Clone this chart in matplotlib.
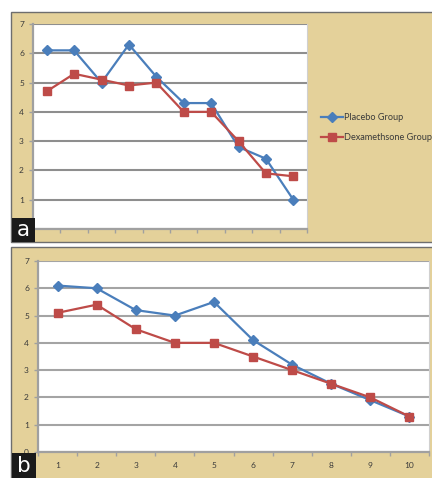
import matplotlib.pyplot as plt
import numpy as np
from matplotlib.patches import Rectangle

# ---- data -------------------------------------------------------------
visits = list(range(1, 11))
placebo_a = [6.1, 6.1, 5.0, 6.3, 5.2, 4.3, 4.3, 2.8, 2.4, 1.0]
dexa_a = [4.7, 5.3, 5.1, 4.9, 5.0, 4.0, 4.0, 3.0, 1.9, 1.8]
placebo_b = [6.1, 6.0, 5.2, 5.0, 5.5, 4.1, 3.2, 2.5, 1.9, 1.3]
dexa_b = [5.1, 5.4, 4.5, 4.0, 4.0, 3.5, 3.0, 2.5, 2.0, 1.3]
series_names = ["Placebo Group", "Dexamethsone Group"]
y_ticks = list(range(0, 8))

# ---- style ------------------------------------------------------------
W, H = 432, 478
PAPER = "#e4d19a"
FRAME = "#6e6e6e"
GRID = "#8e8e8e"
BLUE = "#4a7ebb"
RED = "#be4b48"
TEXT = "#3a3a3a"

plt.rcParams["font.family"] = ["Lato", "DejaVu Sans"]


def px_box(left, top, right, bottom):
    """Pixel box (origin top-left) -> figure fraction rect."""
    return [left / W, 1 - bottom / H, (right - left) / W, (bottom - top) / H]


def panel(fig, left, top, right, bottom):
    x, y, w, h = px_box(left, top, right, bottom)
    fig.add_artist(Rectangle((x, y), w, h, transform=fig.transFigure,
                             facecolor=PAPER, edgecolor=FRAME, lw=1.0, zorder=0))


def tag(fig, letter, left, top, right, bottom):
    x, y, w, h = px_box(left, top, right, bottom)
    fig.add_artist(Rectangle((x, y), w, h, transform=fig.transFigure,
                             facecolor="#1a1a1a", edgecolor="none", zorder=5))
    fig.text(x + w / 2, y + h / 2, letter, color="white", fontsize=15.5,
             ha="center", va="center", family="DejaVu Sans", zorder=6)


def draw_chart(ax, placebo, dexa, grid_color, show_xlabels, show_zero=True):
    x = np.arange(len(visits))
    ax.set_facecolor("white")
    ax.set_xlim(-0.5, len(visits) - 0.5)
    ax.set_ylim(0, 7)
    ax.set_yticks(y_ticks)
    ax.set_yticklabels([str(v) if (v or show_zero) else "" for v in y_ticks])
    ax.yaxis.grid(True, color=grid_color, lw=1.5)
    ax.set_axisbelow(True)

    ax.plot(x, placebo, color=BLUE, lw=1.6, marker="D", ms=4.8,
            mec=BLUE, mfc=BLUE, label=series_names[0], zorder=3)
    ax.plot(x, dexa, color=RED, lw=1.6, marker="s", ms=6.3,
            mec=RED, mfc=RED, label=series_names[1], zorder=3)

    # category labels in the middle, tick marks between categories
    ax.set_xticks(x)
    ax.set_xticks(np.arange(-0.5, len(visits), 1.0), minor=True)
    ax.tick_params(axis="x", which="major", length=0, pad=7,
                   labelsize=6, labelcolor=TEXT)
    ax.tick_params(axis="x", which="minor", length=3, width=1.0,
                   color="#a0a0a0")
    ax.set_xticklabels(visits if show_xlabels else [])
    ax.tick_params(axis="y", length=3, width=1.0, color="#a0a0a0",
                   pad=3.5, labelsize=6, labelcolor=TEXT)

    for side in ("left", "bottom"):
        ax.spines[side].set_color("#a0a0a0")
        ax.spines[side].set_linewidth(1.6)
    ax.spines["top"].set_visible(False)
    ax.spines["right"].set_color("#d0d0d0")
    ax.spines["right"].set_linewidth(0.8)


fig = plt.figure(figsize=(W / 100, H / 100), dpi=100)
fig.patch.set_facecolor("white")

# panel a
panel(fig, 10.5, 11.5, 434, 242)
ax_a = fig.add_axes(px_box(33, 24, 307, 229))
draw_chart(ax_a, placebo_a, dexa_a, GRID, show_xlabels=False, show_zero=False)

handles, labels = ax_a.get_legend_handles_labels()
fig.legend(handles, labels, loc="upper left",
           bbox_to_anchor=(321 / W, 1 - 113.5 / H), frameon=False,
           fontsize=6.6, handlelength=2.4, handletextpad=0.15,
           labelspacing=1.15, borderpad=0, borderaxespad=0,
           labelcolor=TEXT)

# panel b
panel(fig, 10.5, 247, 434, 480)
ax_b = fig.add_axes(px_box(38, 261, 429, 452))
draw_chart(ax_b, placebo_b, dexa_b, "#a4a4a4", show_xlabels=True)

tag(fig, "a", 12, 218, 35, 242)
tag(fig, "b", 12, 453, 36, 478)

fig.savefig("out.png", dpi=100)
